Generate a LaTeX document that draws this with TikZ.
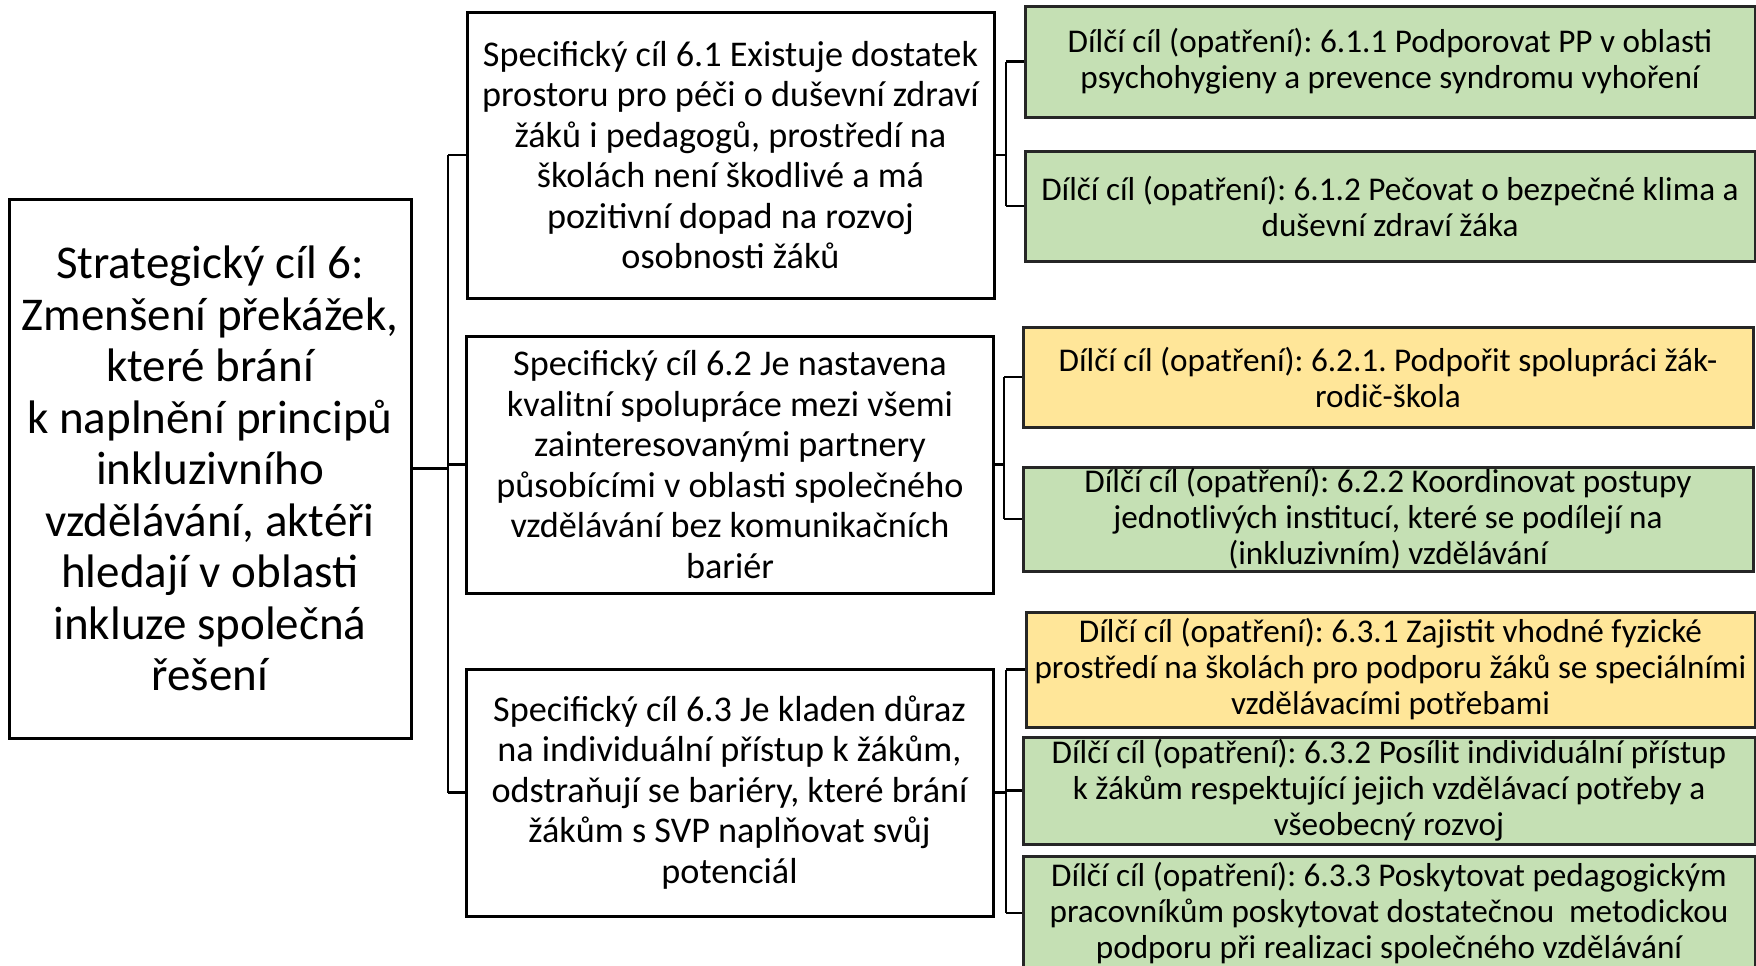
\documentclass[tikz,border=0pt]{standalone}
\usepackage{fontspec}
\setmainfont{Carlito}
\frenchspacing
\definecolor{subgreen}{HTML}{C5E0B4}
\definecolor{subyellow}{HTML}{FFE699}
\definecolor{subline}{HTML}{262626}

\begin{document}
\begin{tikzpicture}
[x=0.5pt, y=-0.5pt, line width=1.2pt,
goal/.style={rectangle, draw, line width=1.5pt, align=center, inner sep=0pt, minimum width=201pt, minimum height=269.5pt, font=\fontsize{23.5}{25.75}\selectfont},
spec/.style={rectangle, draw, line width=1.5pt, align=center, inner sep=0pt, minimum width=263.5pt, font=\fontsize{18.1}{20.25}\selectfont},
sub1/.style={rectangle, draw=subline, fill=subgreen, line width=1.5pt, align=center, inner sep=0pt, minimum width=365pt, font=\fontsize{16.6}{18}\selectfont},
sub0/.style={sub1, fill=subyellow}
]

\useasboundingbox (0,0) rectangle (1756,965);

\node[goal] (goal) at (210,468.5) {Strategický cíl 6:\\Zmenšení překážek,\\které brání\\k naplnění principů\\inkluzivního\\vzdělávání, aktéři\\hledají v oblasti\\inkluze společná\\řešení};

\node[spec, minimum height=143pt] (spec1) at (730.5,155) {Specifický cíl 6.1 Existuje dostatek\\prostoru pro péči o duševní zdraví\\žáků i pedagogů, prostředí na\\školách není škodlivé a má\\pozitivní dopad na rozvoj\\osobnosti žáků};
\node[spec, minimum height=128.5pt] (spec2) at (730,464.5) {Specifický cíl 6.2 Je nastavena\\kvalitní spolupráce mezi všemi\\zainteresovanými partnery\\působícími v oblasti společného\\vzdělávání bez komunikačních\\bariér};
\node[spec, minimum height=123.5pt] (spec3) at (729.5,792.5) {Specifický cíl 6.3 Je kladen důraz\\na individuální přístup k žákům,\\odstraňují se bariéry, které brání\\žákům s SVP naplňovat svůj\\potenciál};

\node[sub1, minimum height=55.5pt] (sub11) at (1390,61.5) {Dílčí cíl (opatření): 6.1.1 Podporovat PP v oblasti\\psychohygieny a prevence syndromu vyhoření};
\node[sub1, minimum height=55pt] (sub12) at (1390,206) {Dílčí cíl (opatření): 6.1.2 Pečovat o bezpečné klima a\\duševní zdraví žáka};
\node[sub0, minimum height=50pt] (sub21) at (1388,377) {Dílčí cíl (opatření): 6.2.1. Podpořit spolupráci žák-\\rodič-škola};
\node[sub1, minimum height=52pt] (sub22) at (1388,519) {Dílčí cíl (opatření): 6.2.2 Koordinovat postupy\\jednotlivých institucí, které se podílejí na\\(inkluzivním) vzdělávání};
\node[sub0, minimum height=57.5pt, minimum width=364.5pt] (sub31) at (1390.5,669.5) {Dílčí cíl (opatření): 6.3.1 Zajistit vhodné fyzické\\prostředí na školách pro podporu žáků se speciálními\\vzdělávacími potřebami};
\node[sub1, minimum height=53.5pt, minimum width=366pt] (sub32) at (1389,790.5) {Dílčí cíl (opatření): 6.3.2 Posílit individuální přístup\\k žákům respektující jejich vzdělávací potřeby a\\všeobecný rozvoj};
\node[sub1, minimum height=57pt, minimum width=366pt] (sub33) at (1389,913) {Dílčí cíl (opatření): 6.3.3 Poskytovat pedagogickým\\pracovníkům poskytovat dostatečnou~~metodickou\\podporu při realizaci společného vzdělávání};

\coordinate (sp0) at (448,0);
\coordinate (sp1) at (1006,0);
\coordinate (sp2) at (1004,0);
\coordinate (sp3) at (1006,0);

\draw (goal.east) -- (goal.east -| sp0);
\draw (sp0 |- spec1.west) -- (sp0 |- spec3.west);
\foreach \s in {spec1,spec2,spec3} {
  \draw (sp0 |- \s.west) -- (\s.west);
}

\draw (spec1.east) -- (spec1.east -| sp1);
\draw (sp1 |- sub11.west) -- (sp1 |- sub12.west);
\foreach \s in {sub11,sub12} {
  \draw (sp1 |- \s.west) -- (\s.west);
}

\draw (spec2.east) -- (spec2.east -| sp2);
\draw (sp2 |- sub21.west) -- (sp2 |- sub22.west);
\foreach \s in {sub21,sub22} {
  \draw (sp2 |- \s.west) -- (\s.west);
}

\draw (spec3.east) -- (spec3.east -| sp3);
\draw (sp3 |- sub31.west) -- (sp3 |- sub33.west);
\foreach \s in {sub31,sub32,sub33} {
  \draw (sp3 |- \s.west) -- (\s.west);
}

\end{tikzpicture}
\end{document}
